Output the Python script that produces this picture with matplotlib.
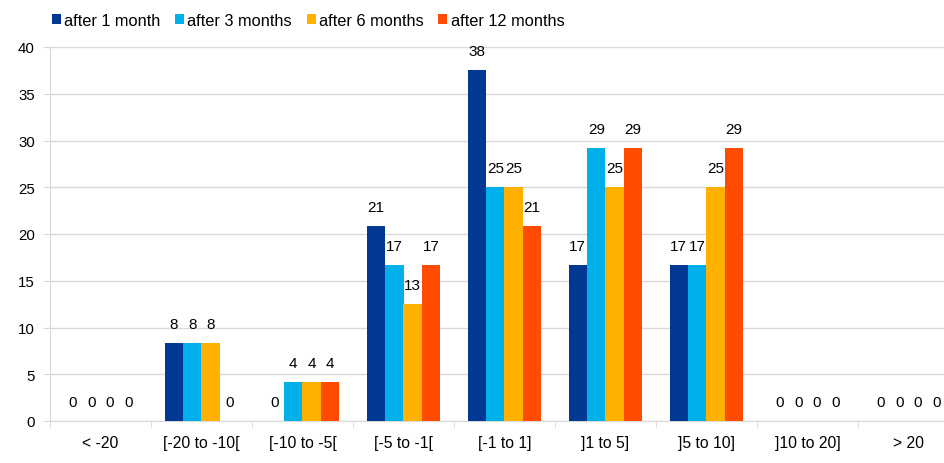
import numpy as np
import matplotlib.pyplot as plt

plt.rcParams['font.family'] = ['Liberation Sans', 'DejaVu Sans']

categories = ['< -20', '[-20 to -10[', '[-10 to -5[', '[-5 to -1[', '[-1 to 1]',
              ']1 to 5]', ']5 to 10]', ']10 to 20]', '> 20']
series = ['after 1 month', 'after 3 months', 'after 6 months', 'after 12 months']
m1 = [0, 8.33, 0, 20.83, 37.5, 16.67, 16.67, 0, 0]
m3 = [0, 8.33, 4.17, 16.67, 25, 29.17, 16.67, 0, 0]
m6 = [0, 8.33, 4.17, 12.5, 25, 25, 25, 0, 0]
m12 = [0, 0, 4.17, 16.67, 20.83, 29.17, 29.17, 0, 0]
colors = ['#003893', '#00B0EB', '#FFB000', '#FF4C00']

fig = plt.figure(figsize=(9.45, 4.64), dpi=100)
# the plot area runs past the right edge of the picture, as in the original
ax = fig.add_axes([50/945, 42/464, 909/945, 374/464])

x = np.arange(len(categories))
w = 0.183
for i, (vals, name) in enumerate(zip([m1, m3, m6, m12], series)):
    pos = x + (i - 1.5) * w
    ax.bar(pos, vals, width=w, color=colors[i], label=name, zorder=3)
    for px, v in zip(pos, vals):
        # round half up, like the spreadsheet does
        ax.annotate(str(int(v + 0.5)), (px, v), xytext=(0, 14), textcoords='offset points',
                    ha='center', va='center', fontsize=11)

ax.set_xlim(-0.5, len(categories) - 0.5)
ax.set_ylim(0, 40)
ax.set_yticks(range(0, 41, 5))
ax.set_xticks(np.arange(-0.5, len(categories), 1), minor=True)
ax.set_xticks(x)
ax.set_xticklabels(categories)
ax.tick_params(axis='x', which='major', length=0, pad=10, labelsize=11.3)
ax.tick_params(axis='x', which='minor', length=5, color='#D9D9D9')
ax.tick_params(axis='y', length=5, color='#D9D9D9', labelsize=10.8, pad=6)
ax.grid(axis='y', color='#D9D9D9', linewidth=1, zorder=0)
for s in ['top', 'right']:
    ax.spines[s].set_visible(False)
for s in ['left', 'bottom']:
    ax.spines[s].set_color('#D9D9D9')

ax.legend(loc='upper left', bbox_to_anchor=(-5/909, 1.108), ncol=4, frameon=False,
          handlelength=0.55, handleheight=0.55, handletextpad=0.2, columnspacing=0.9,
          fontsize=11.8, borderaxespad=0)

fig.savefig('out.png', dpi=100)
